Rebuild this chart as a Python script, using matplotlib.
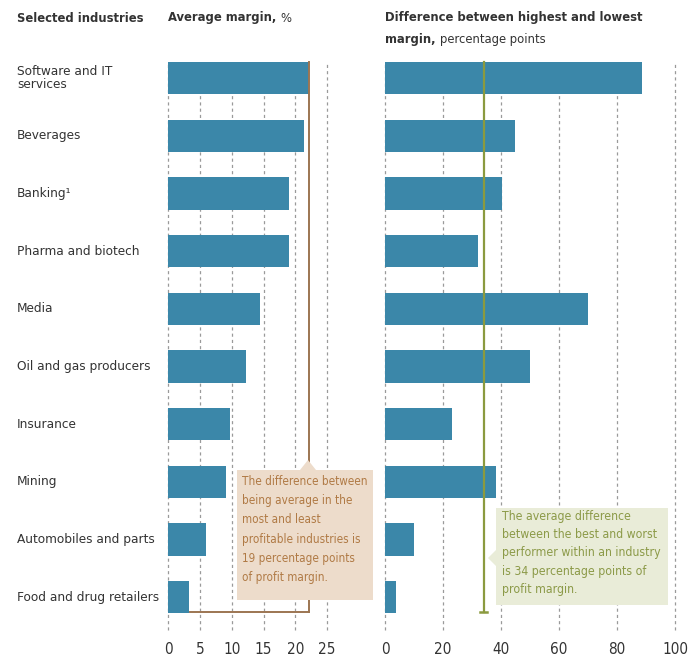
import matplotlib
matplotlib.use("Agg")
import matplotlib.pyplot as plt
from matplotlib import font_manager
from matplotlib.patches import Polygon

# ---------------- data ----------------
industries = ["Software and IT\nservices", "Beverages", "Banking\u00b9", "Pharma and biotech",
              "Media", "Oil and gas producers", "Insurance", "Mining",
              "Automobiles and parts", "Food and drug retailers"]
avg_margin = [22.2, 21.4, 19.0, 19.0, 14.5, 12.3, 9.7, 9.1, 6.0, 3.3]
spread = [88.6, 44.8, 40.3, 32.0, 70.0, 50.0, 23.0, 38.3, 10.0, 3.8]
left_ticks = [0, 5, 10, 15, 20, 25]
right_ticks = [0, 20, 40, 60, 80, 100]
avg_spread = 34

# ---------------- fonts ----------------
fam = "DejaVu Sans"
for cand in ["Liberation Sans Narrow", "DejaVu Sans Condensed"]:
    try:
        font_manager.findfont(font_manager.FontProperties(family=cand), fallback_to_default=False)
        fam = cand
        break
    except Exception:
        pass
plt.rcParams["font.family"] = [fam, "DejaVu Sans"]
plt.rcParams["font.stretch"] = "condensed"

BAR = "#3b87a9"
GRID = "#9a9a9a"
TXT = "#333333"
BROWN = "#9c7552"
OLIVE = "#8b9a3f"

W, H = 689, 657
fig = plt.figure(figsize=(W / 100, H / 100), dpi=100)
renderer = fig.canvas.get_renderer()

def px_axes(x0, x1, y0, y1):
    return fig.add_axes([x0 / W, 1 - y1 / H, (x1 - x0) / W, (y1 - y0) / H])

ypos = list(range(len(industries)))
ylim = (9.57, -0.28)
bh = 0.56

axL = px_axes(168, 359, 62, 630)
axR = px_axes(385, 675, 62, 630)

for ax, vals, ticks, xmax in [(axL, avg_margin, left_ticks, 30), (axR, spread, right_ticks, 100)]:
    ax.set_xlim(0, xmax)
    ax.set_ylim(*ylim)
    for t in ticks:
        ax.axvline(t, color=GRID, lw=0.9, ls=(0, (2.5, 2.5)), zorder=1, clip_on=False)
    ax.barh(ypos, vals, height=bh, color=BAR, zorder=2)
    ax.set_xticks(ticks)
    ax.set_xticklabels([str(t) for t in ticks], fontsize=11, color=TXT)
    ax.tick_params(axis="x", length=0, pad=9)
    ax.set_yticks([])
    for s in ax.spines.values():
        s.set_visible(False)
    ax.patch.set_alpha(0)

# brown bracket on the left panel
yb = 9.26
axL.plot([avg_margin[0], avg_margin[0]], [ylim[1], yb], color=BROWN, lw=1.4, zorder=3, clip_on=False)
axL.plot([avg_margin[-1] + 0.2, avg_margin[0]], [yb, yb], color=BROWN, lw=1.4, zorder=3, clip_on=False)

# olive average line on the right panel
axR.plot([avg_spread, avg_spread], [ylim[1], yb], color=OLIVE, lw=1.6, zorder=3, clip_on=False)
axR.plot([avg_spread - 1.2, avg_spread + 1.2], [yb, yb], color=OLIVE, lw=1.8, zorder=3)

# category labels
for i, lab in enumerate(industries):
    y = 78 + i * 57.7
    fig.text(17 / W, 1 - y / H, lab, fontsize=9.7, color=TXT, ha="left", va="center",
             linespacing=1.0)

# headers (pieces placed one after another)
def run_text(x, y, pieces, size=9.3):
    for s, bold in pieces:
        t = fig.text(x / W, 1 - y / H, s, fontsize=size, fontweight="bold" if bold else "normal",
                     color=TXT, va="center", ha="left")
        bb = t.get_window_extent(renderer)
        x += bb.width

run_text(17, 18, [("Selected industries", True)])
run_text(168, 18, [("Average margin, ", True), ("%", False)])
run_text(385, 18, [("Difference between highest and lowest", True)])
run_text(385, 40, [("margin, ", True), ("percentage points", False)])

# overlay for callout boxes (pixel coordinates)
ov = fig.add_axes([0, 0, 1, 1])
ov.set_xlim(0, W)
ov.set_ylim(H, 0)
ov.axis("off")
ov.patch.set_alpha(0)

box1 = Polygon([(237, 470), (300, 470), (308, 460), (316, 470), (373, 470), (373, 600), (237, 600)],
               closed=True, facecolor="#eddccb", edgecolor="none", zorder=5)
ov.add_patch(box1)
ov.text(242, 475, "The difference between\nbeing average in the\nmost and least\nprofitable industries is\n"
        "19 percentage points\nof profit margin.", fontsize=8.4, color="#b07a45", va="top", ha="left",
        linespacing=1.62, zorder=6)

box2 = Polygon([(496, 508), (668, 508), (668, 605), (496, 605), (496, 566), (488, 558), (496, 550)],
               closed=True, facecolor="#e9ecd8", edgecolor="none", zorder=5)
ov.add_patch(box2)
ov.text(502, 510, "The average difference\nbetween the best and worst\nperformer within an industry\n"
        "is 34 percentage points of\nprofit margin.", fontsize=8.8, color="#8c9a48", va="top", ha="left",
        linespacing=1.52, zorder=6)

fig.savefig("out.png", dpi=100, facecolor="white")
